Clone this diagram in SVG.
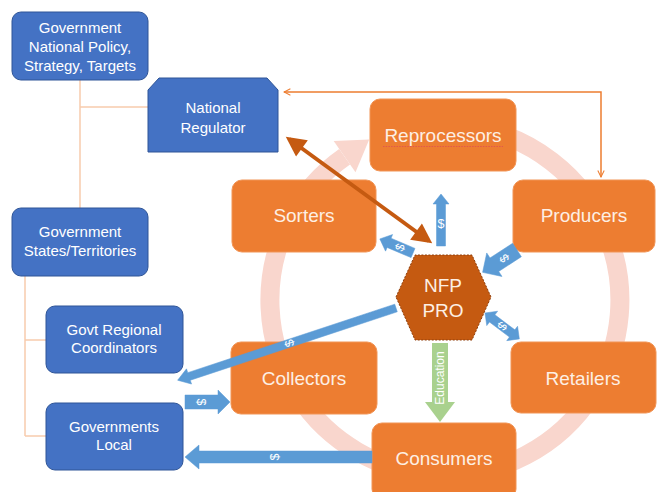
<svg xmlns="http://www.w3.org/2000/svg" width="657" height="492" viewBox="0 0 657 492">
  <defs>
    <marker id="openHead" viewBox="0 0 10 10" refX="9" refY="5" markerWidth="8" markerHeight="8" markerUnits="userSpaceOnUse" orient="auto-start-reverse">
      <path d="M1,1 L9,5 L1,9" fill="none" stroke="#ED7D31" stroke-width="1.3"/>
    </marker>
    <marker id="solidHead" viewBox="0 0 10 10" refX="8" refY="5" markerWidth="5.5" markerHeight="5" orient="auto-start-reverse">
      <path d="M0,0 L10,5 L0,10 Z" fill="#C55A11"/>
    </marker>
  </defs>
  <style>
    .gov { fill: #4472C4; stroke: #2F5597; stroke-width: 1; }
    .stage { fill: #ED7D31; stroke: #F19557; stroke-width: 1; }
    .govText { font-family: "Liberation Sans", Arial, sans-serif; font-size: 15px; fill: #FFFFFF; text-anchor: middle; }
    .stageText { font-family: "Liberation Sans", Arial, sans-serif; font-size: 19px; fill: #FDEFE4; text-anchor: middle; }
    .tree { fill: none; stroke: #F8CBAD; stroke-width: 1.5; }
    .flow { fill: #5B9BD5; stroke: #5B9BD5; stroke-width: 0.5; }
    .money { font-family: "Liberation Sans", Arial, sans-serif; font-size: 12.5px; fill: #FFFFFF; text-anchor: middle; dominant-baseline: central; }
    .cycle { fill: none; stroke: #F9D6CD; stroke-width: 19; }
  </style>

  <rect width="657" height="492" fill="#FFFFFF"/>

  <!-- continuous cycle ring behind the stages -->
  <g id="cycle-ring">
    <path class="cycle" d="M385.2,135.6 A175,175 0 1 1 344.6,156.7"/>
    <polygon points="333.7,141.1 369.2,139.5 355.5,172.3" fill="#F9D6CD"/>
  </g>

  <!-- government hierarchy lines -->
  <g id="hierarchy-lines">
    <path class="tree" d="M80,80 V208 M80,107 H148"/>
    <path class="tree" d="M25,276 V436 M25,340 H46 M25,436 H46"/>
  </g>

  <!-- government nodes -->
  <g id="gov-national">
    <rect class="gov" x="12" y="12" width="136" height="68" rx="9"/>
    <text class="govText" x="80" y="33">Government</text>
    <text class="govText" x="80" y="52">National Policy,</text>
    <text class="govText" x="80" y="71">Strategy, Targets</text>
  </g>
  <g id="national-regulator">
    <polygon class="gov" points="148,152 148,90 159,78 267,78 278,90 278,152"/>
    <text class="govText" x="213" y="113">National</text>
    <text class="govText" x="213" y="133">Regulator</text>
  </g>
  <g id="gov-states">
    <rect class="gov" x="12" y="208" width="136" height="68" rx="9"/>
    <text class="govText" x="80" y="237">Government</text>
    <text class="govText" x="80" y="256">States/Territories</text>
  </g>
  <g id="gov-regional">
    <rect class="gov" x="46" y="306" width="137" height="67" rx="9"/>
    <text class="govText" x="114" y="335">Govt Regional</text>
    <text class="govText" x="114" y="353">Coordinators</text>
  </g>
  <g id="gov-local">
    <rect class="gov" x="46" y="403" width="137" height="67" rx="9"/>
    <text class="govText" x="114" y="432">Governments</text>
    <text class="govText" x="114" y="450">Local</text>
  </g>

  <!-- stage nodes -->
  <g id="reprocessors">
    <rect class="stage" x="370" y="99" width="146" height="72" rx="10"/>
    <text class="stageText" x="443" y="142">Reprocessors</text>
    <path d="M383,146.5 H503" stroke="#E2574C" stroke-width="1" stroke-dasharray="1.5 1.2" fill="none"/>
  </g>
  <g id="producers">
    <rect class="stage" x="513" y="180" width="142" height="72" rx="10"/>
    <text class="stageText" x="584" y="222">Producers</text>
  </g>
  <g id="sorters">
    <rect class="stage" x="232" y="180" width="144" height="72" rx="10"/>
    <text class="stageText" x="304" y="222">Sorters</text>
  </g>
  <g id="collectors">
    <rect class="stage" x="231" y="342" width="146" height="72" rx="10"/>
    <text class="stageText" x="304" y="385">Collectors</text>
  </g>
  <g id="retailers">
    <rect class="stage" x="511" y="342" width="145" height="71" rx="10"/>
    <text class="stageText" x="583" y="385">Retailers</text>
  </g>
  <g id="consumers">
    <rect class="stage" x="372" y="423" width="144" height="76" rx="10"/>
    <text class="stageText" x="444" y="465">Consumers</text>
  </g>

  <!-- central organisation -->
  <g id="nfp-pro">
    <polygon points="396,297 415,255 472,255 491,297 472,340 415,340" fill="#C55A11" stroke="#8F3F0C" stroke-width="1" stroke-dasharray="2 1.5"/>
    <text class="stageText" x="443" y="292">NFP</text>
    <text class="stageText" x="443" y="317">PRO</text>
  </g>

  <!-- connectors -->
  <g id="connectors">
    <!-- regulator to producers elbow -->
    <path d="M284,92 H601 V177" fill="none" stroke="#ED7D31" stroke-width="1.5" marker-start="url(#openHead)" marker-end="url(#openHead)"/>
    <!-- regulator to NFP PRO -->
    <path d="M289,139 L429,241" fill="none" stroke="#C55A11" stroke-width="4" marker-start="url(#solidHead)" marker-end="url(#solidHead)"/>

    <!-- NFP PRO to reprocessors -->
    <g transform="translate(441,246) rotate(-90)">
      <path class="flow" d="M0,-4.5 L42,-4.5 L42,-8 L52,0 L42,8 L42,4.5 L0,4.5 Z"/>
      <text class="money" x="22" y="0" transform="rotate(90 22 0)">$</text>
    </g>
    <!-- NFP PRO to sorters -->
    <g transform="translate(413,253) rotate(-157)">
      <path class="flow" d="M0,-5 L26,-5 L26,-9 L36,0 L26,9 L26,5 L0,5 Z"/>
      <text class="money" x="14" y="0" transform="rotate(90 14 0)">$</text>
    </g>
    <!-- producers to NFP PRO -->
    <g transform="translate(517,250) rotate(147)">
      <path class="flow" d="M0,-8 L27,-8 L27,-14 L41,0 L27,14 L27,8 L0,8 Z"/>
      <text class="money" x="15" y="0" transform="rotate(90 15 0)">$</text>
    </g>
    <!-- NFP PRO and retailers -->
    <g transform="translate(485,313) rotate(37)">
      <path class="flow" d="M0,0 L9,-9 L9,-4.5 L34,-4.5 L34,-9 L43,0 L34,9 L34,4.5 L9,4.5 L9,9 Z"/>
      <text class="money" x="21.5" y="0" transform="rotate(90 21.5 0)">$</text>
    </g>
    <!-- NFP PRO to regional coordinators -->
    <g transform="translate(396,308) rotate(161.7)">
      <path class="flow" d="M0,-4 L218,-4 L218,-8 L230,0 L218,8 L218,4 L0,4 Z"/>
      <text class="money" x="112" y="0" transform="rotate(90 112 0)">$</text>
    </g>
    <!-- local government to collectors -->
    <g transform="translate(185,402)">
      <path class="flow" d="M0,-7 L33,-7 L33,-12 L45,0 L33,12 L33,7 L0,7 Z"/>
      <text class="money" x="16" y="0" transform="rotate(90 16 0)">$</text>
    </g>
    <!-- consumers to local government -->
    <g transform="translate(372,457) rotate(180)">
      <path class="flow" d="M0,-6 L173,-6 L173,-12 L187,0 L173,12 L173,6 L0,6 Z"/>
      <text class="money" x="97" y="0" transform="rotate(90 97 0)">$</text>
    </g>
    <!-- education to consumers -->
    <g transform="translate(440,343) rotate(90)">
      <path d="M0,-8 L59,-8 L59,-15 L79,0 L59,15 L59,8 L0,8 Z" fill="#A9D18E"/>
      <text x="35" y="0" transform="rotate(180 35 0)" font-family="Liberation Sans, Arial, sans-serif" font-size="12" fill="#FFFFFF" text-anchor="middle" dominant-baseline="central">Education</text>
    </g>
  </g>
</svg>
